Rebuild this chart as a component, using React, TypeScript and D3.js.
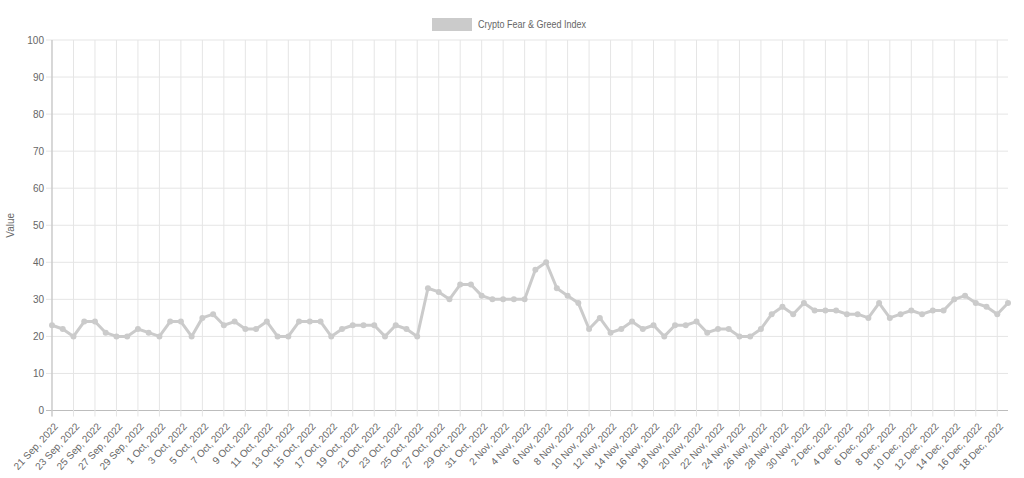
import React, { useEffect } from 'react';
import * as d3 from 'd3';

const dates: string[] = [
  '21 Sep, 2022', '22 Sep, 2022', '23 Sep, 2022', '24 Sep, 2022', '25 Sep, 2022', '26 Sep, 2022', '27 Sep, 2022', '28 Sep, 2022', '29 Sep, 2022', '30 Sep, 2022',
  '1 Oct, 2022', '2 Oct, 2022', '3 Oct, 2022', '4 Oct, 2022', '5 Oct, 2022', '6 Oct, 2022', '7 Oct, 2022', '8 Oct, 2022', '9 Oct, 2022', '10 Oct, 2022',
  '11 Oct, 2022', '12 Oct, 2022', '13 Oct, 2022', '14 Oct, 2022', '15 Oct, 2022', '16 Oct, 2022', '17 Oct, 2022', '18 Oct, 2022', '19 Oct, 2022', '20 Oct, 2022',
  '21 Oct, 2022', '22 Oct, 2022', '23 Oct, 2022', '24 Oct, 2022', '25 Oct, 2022', '26 Oct, 2022', '27 Oct, 2022', '28 Oct, 2022', '29 Oct, 2022', '30 Oct, 2022',
  '31 Oct, 2022', '1 Nov, 2022', '2 Nov, 2022', '3 Nov, 2022', '4 Nov, 2022', '5 Nov, 2022', '6 Nov, 2022', '7 Nov, 2022', '8 Nov, 2022', '9 Nov, 2022',
  '10 Nov, 2022', '11 Nov, 2022', '12 Nov, 2022', '13 Nov, 2022', '14 Nov, 2022', '15 Nov, 2022', '16 Nov, 2022', '17 Nov, 2022', '18 Nov, 2022', '19 Nov, 2022',
  '20 Nov, 2022', '21 Nov, 2022', '22 Nov, 2022', '23 Nov, 2022', '24 Nov, 2022', '25 Nov, 2022', '26 Nov, 2022', '27 Nov, 2022', '28 Nov, 2022', '29 Nov, 2022',
  '30 Nov, 2022', '1 Dec, 2022', '2 Dec, 2022', '3 Dec, 2022', '4 Dec, 2022', '5 Dec, 2022', '6 Dec, 2022', '7 Dec, 2022', '8 Dec, 2022', '9 Dec, 2022',
  '10 Dec, 2022', '11 Dec, 2022', '12 Dec, 2022', '13 Dec, 2022', '14 Dec, 2022', '15 Dec, 2022', '16 Dec, 2022', '17 Dec, 2022', '18 Dec, 2022', '19 Dec, 2022',
];

const values: number[] = [
  23, 22, 20, 24, 24, 21, 20, 20, 22, 21,
  20, 24, 24, 20, 25, 26, 23, 24, 22, 22,
  24, 20, 20, 24, 24, 24, 20, 22, 23, 23,
  23, 20, 23, 22, 20, 33, 32, 30, 34, 34,
  31, 30, 30, 30, 30, 38, 40, 33, 31, 29,
  22, 25, 21, 22, 24, 22, 23, 20, 23, 23,
  24, 21, 22, 22, 20, 20, 22, 26, 28, 26,
  29, 27, 27, 27, 26, 26, 25, 29, 25, 26,
  27, 26, 27, 27, 30, 31, 29, 28, 26, 29,
];

const yTicks: number[] = [0, 10, 20, 30, 40, 50, 60, 70, 80, 90, 100];
const seriesName = 'Crypto Fear & Greed Index';
const yTitle = 'Value';

const FONT = '"Liberation Sans", Arial, Helvetica, sans-serif';
const LINE = '#cbcbcb';
const TEXT = '#666';
const GRID = '#e5e5e5';

export default function App() {
  useEffect(() => {
    document.body.style.margin = '0';
  }, []);

  const W = 1024;
  const H = 478;
  const left = 52;
  const right = 1008;
  const top = 40;
  const bottom = 410.5;

  const x = d3.scalePoint<string>().domain(dates).range([left, right]);
  const y = d3.scaleLinear().domain([0, 100]).range([bottom, top]);
  const line = d3
    .line<number>()
    .x((_, i) => x(dates[i]) as number)
    .y((d) => y(d));

  const labelled = dates.filter((_, i) => i % 2 === 0);

  return (
    <svg width={W} height={H} style={{ display: 'block', background: '#fff' }} fontFamily={FONT}>
      {/* legend */}
      <rect x={432} y={18} width={40} height={13} fill={LINE} />
      <text x={478} y={28} fontSize={10} fill={TEXT} transform="translate(478,0) scale(0.9,1) translate(-478,0)">
        {seriesName}
      </text>

      {/* horizontal grid */}
      {yTicks.map((t) => (
        <g key={'y' + t}>
          <line x1={left - 6} x2={right} y1={y(t)} y2={y(t)} stroke={t === 0 ? '#bdbdbd' : GRID} strokeWidth={1} />
          <text x={44} y={y(t)} dy="0.35em" textAnchor="end" fontSize={10} fill={TEXT}>
            {t}
          </text>
        </g>
      ))}

      {/* vertical grid */}
      {labelled.map((d) => (
        <line key={'g' + d} x1={x(d)} x2={x(d)} y1={top} y2={bottom + 6} stroke={GRID} strokeWidth={1} />
      ))}
      <line x1={left} x2={left} y1={top} y2={bottom + 6} stroke="#bdbdbd" strokeWidth={1} />

      {/* x labels */}
      {labelled.map((d) => (
        <text
          key={'l' + d}
          transform={`translate(${(x(d) as number) + 4},${bottom + 14}) rotate(-47)`}
          textAnchor="end"
          dy="0.35em"
          fontSize={10}
          fill={TEXT}
        >
          {d}
        </text>
      ))}

      {/* y title */}
      <text transform={`translate(14,${(top + bottom) / 2}) rotate(-90)`} textAnchor="middle" fontSize={10} fill={TEXT}>
        {yTitle}
      </text>

      {/* line */}
      <path d={line(values) || ''} fill="none" stroke={LINE} strokeWidth={3} strokeLinejoin="round" />
      {values.map((v, i) => (
        <circle key={'p' + i} cx={x(dates[i])} cy={y(v)} r={3} fill={LINE} />
      ))}
    </svg>
  );
}
